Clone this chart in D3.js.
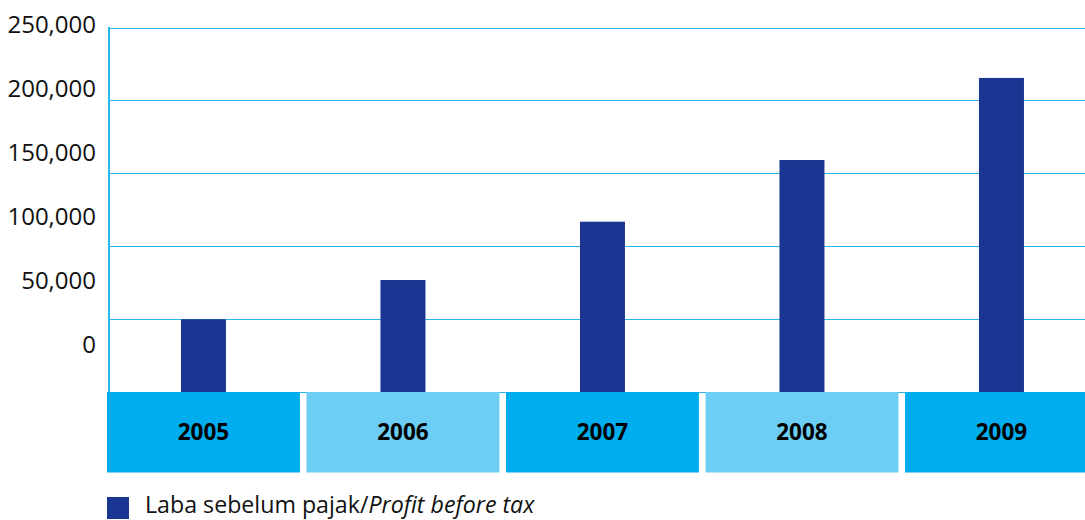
<!DOCTYPE html>
<html>
<head>
<meta charset="utf-8">
<script src="https://cdn.jsdelivr.net/npm/d3@7"></script>
<style>
  html, body { margin: 0; padding: 0; background: #fff; }
  svg { display: block; font-family: 'Open Sans', sans-serif; }
</style>
</head>
<body>
<div id="chart"></div>
<script>
'use strict';

const years   = ['2005', '2006', '2007', '2008', '2009'];
const profit  = [49900, 76800, 116800, 159100, 215400];
const yTicks  = [0, 50000, 100000, 150000, 200000, 250000];
const legendLabel = 'Laba sebelum pajak/';
const legendItalic = 'Profit before tax';

const width = 1085, height = 520;
const left = 107, zeroY = 392, topY = 27.5, boxH = 80.5;
const step = 199.5, padIn = 0.033;

const svg = d3.select('#chart').append('svg')
    .attr('width', width)
    .attr('height', height);

const x = d3.scaleBand()
    .domain(years)
    .range([left, left + step * (years.length - padIn)])
    .paddingInner(padIn)
    .paddingOuter(0);

const y = d3.scaleLinear().domain([0, 250000]).range([zeroY, topY]);

// tick labels sit slightly off the grid in the original
const yLabel = d3.scaleLinear().domain([0, 250000]).range([344, 24]);

// grid lines
svg.append('g')
    .selectAll('line')
    .data(yTicks)
    .enter()
    .append('line')
    .attr('x1', 110)
    .attr('x2', width)
    .attr('y1', d => Math.round(y(d)) + 0.5)
    .attr('y2', d => Math.round(y(d)) + 0.5)
    .style('stroke', '#29b6ec')
    .style('stroke-width', 1.2);

// y axis line
svg.append('line')
    .attr('x1', 109).attr('x2', 109)
    .attr('y1', topY - 0.5).attr('y2', zeroY)
    .style('stroke', '#29b6ec')
    .style('stroke-width', 2);

// y labels
svg.append('g')
    .selectAll('text')
    .data(yTicks)
    .enter()
    .append('text')
    .attr('x', 96)
    .attr('y', d => yLabel(d))
    .attr('dy', '0.36em')
    .attr('text-anchor', 'end')
    .style('font-size', '24px')
    .style('fill', '#111')
    .text(d => d3.format(',')(d));

// bars
const barW = 45;
svg.append('g')
    .selectAll('rect')
    .data(profit)
    .enter()
    .append('rect')
    .attr('x', (d, i) => x(years[i]) + x.bandwidth() / 2 - barW / 2)
    .attr('y', d => y(d))
    .attr('width', barW)
    .attr('height', d => zeroY - y(d))
    .style('fill', '#1b3592');

// category boxes
const cat = svg.append('g')
    .selectAll('g')
    .data(years)
    .enter()
    .append('g');

cat.append('rect')
    .attr('x', d => x(d))
    .attr('y', zeroY)
    .attr('width', x.bandwidth())
    .attr('height', boxH)
    .style('fill', (d, i) => i % 2 ? '#6dcef5' : '#00adee');

cat.append('text')
    .attr('x', d => x(d) + x.bandwidth() / 2)
    .attr('y', zeroY + boxH / 2)
    .attr('dy', '0.36em')
    .attr('text-anchor', 'middle')
    .style('font-size', '22.5px')
    .style('font-weight', 'bold')
    .style('fill', '#000')
    .text(d => d);

// legend
const lg = svg.append('g');
lg.append('rect')
    .attr('x', 107).attr('y', 497)
    .attr('width', 22).attr('height', 22)
    .style('fill', '#1b3592');

const lt = lg.append('text')
    .attr('x', 145)
    .attr('y', 513)
    .style('font-size', '23.2px')
    .style('fill', '#111');
lt.append('tspan').text(legendLabel);
lt.append('tspan').style('font-style', 'italic').text(legendItalic);
</script>
</body>
</html>
